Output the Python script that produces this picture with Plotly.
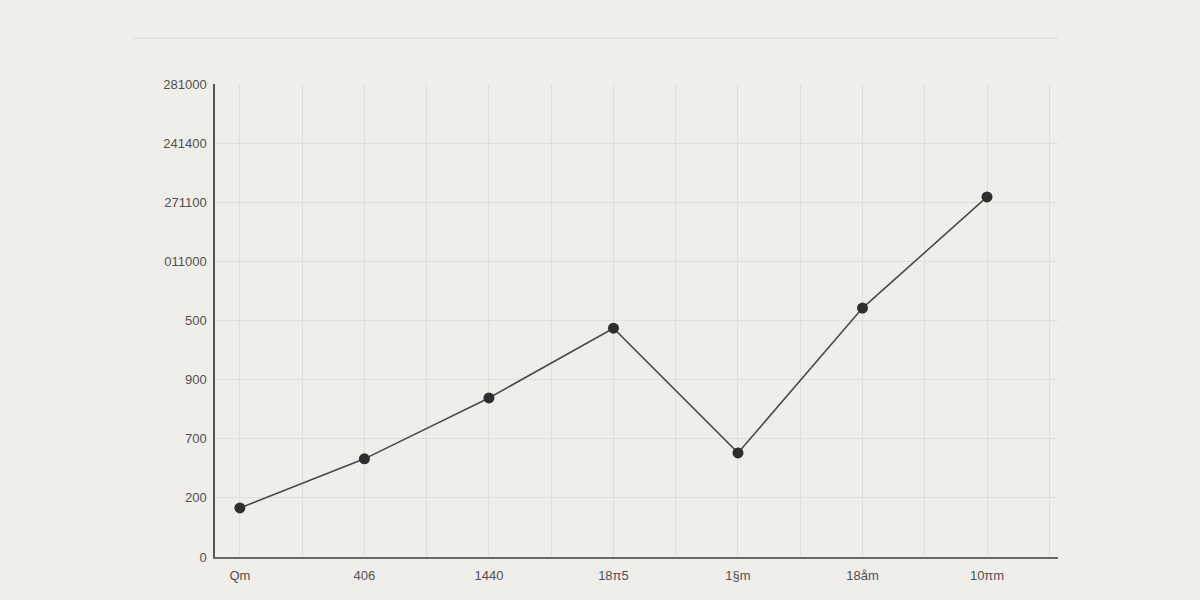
import plotly.graph_objects as go

categories = ["Qm", "406", "1440", "18\u03c05", "1\u00a7m", "18\u00e5m", "10\u03c0m"]
values = [0.83, 1.66, 2.69, 3.87, 1.76, 4.21, 6.09]
y_tick_vals = [0, 1, 2, 3, 4, 5, 6, 7, 8]
y_tick_text = ["0", "200", "700", "900", "500", "011000", "271100", "241400", "281000"]

x_idx = list(range(len(categories)))

fig = go.Figure()
fig.add_trace(go.Scatter(
    x=x_idx, y=values, mode="lines+markers",
    line=dict(color="#4a4a4a", width=1.6),
    marker=dict(color="#2e2e2e", size=11),
    hoverinfo="skip", showlegend=False,
))

bg = "#efeeea"
grid = "#e0dfdb"
fig.update_layout(
    width=1200, height=600,
    paper_bgcolor=bg, plot_bgcolor=bg,
    margin=dict(l=215, r=142, t=84, b=43),
    font=dict(family="Liberation Sans, Arial, sans-serif", size=13, color="#505050"),
    xaxis=dict(
        range=[-0.2, 6.57], tickvals=x_idx, ticktext=categories,
        showgrid=True, gridcolor=grid, gridwidth=1,
        minor=dict(tickvals=[i + 0.5 for i in x_idx], showgrid=True, gridcolor=grid, gridwidth=1),
        showline=True, linecolor="#6a6a6a", linewidth=2,
        zeroline=False, ticks="", ticklen=0, ticklabelstandoff=5,
    ),
    yaxis=dict(
        range=[0, 8], tickvals=y_tick_vals, ticktext=y_tick_text,
        showgrid=True, gridcolor=grid, gridwidth=1,
        showline=True, linecolor="#555555", linewidth=1.5,
        zeroline=False, ticks="", ticklen=0, ticklabelstandoff=4,
    ),
    shapes=[dict(type="line", xref="paper", yref="paper",
                 x0=-0.097, x1=1.0, y0=1.097, y1=1.097,
                 line=dict(color="#e0dfdb", width=1.5))],
)

fig.write_html(
    "out.html",
    config={"displayModeBar": False},
    post_script="document.body.style.margin='0';document.body.style.background='#efeeea';",
)
